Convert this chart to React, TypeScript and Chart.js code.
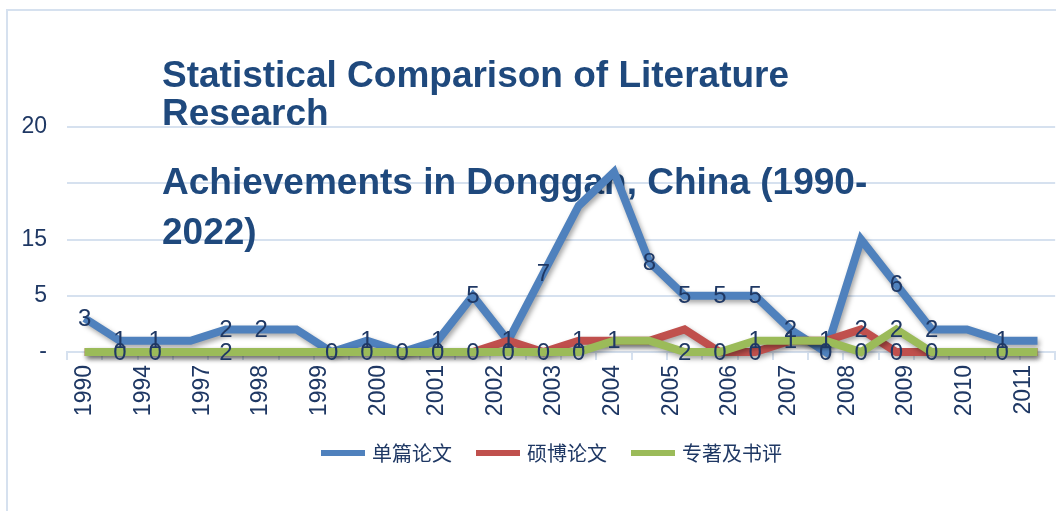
import React, { useEffect, useRef } from "react";
import { Chart, registerables } from "chart.js";

Chart.register(...registerables);

// ---------- data ----------
const categories = [
  "1", "2", "3", "4", "5", "6", "7", "8", "9", "10", "11", "12", "13", "14",
  "15", "16", "17", "18", "19", "20", "21", "22", "23", "24", "25", "26", "27", "28",
];
const singlePapers = [3, 1, 1, 1, 2, 2, 2, 0, 1, 0, 1, 5, 1, 7, 13, 16, 8, 5, 5, 5, 2, 0, 10, 6, 2, 2, 1, 1];
const thesisPapers = [0, 0, 0, 0, 0, 0, 0, 0, 0, 0, 0, 0, 1, 0, 1, 1, 1, 2, 0, 0, 1, 1, 2, 0, 0, 0, 0, 0];
const booksReviews = [0, 0, 0, 0, 0, 0, 0, 0, 0, 0, 0, 0, 0, 0, 0, 1, 1, 0, 0, 1, 1, 1, 0, 2, 0, 0, 0, 0];

// data labels as shown on the chart (null = not shown)
const singleLabels = ["3", "1", "1", null, "2", "2", null, "0", "1", "0", "1", "5", "1", "7", null, null, "8", "5", "5", "5", "2", "0", null, "6", "2", null, "1", null];
const thesisLabels = [null, null, null, null, null, null, null, null, null, null, null, "0", null, "0", "1", null, null, null, "0", "0", "1", null, "2", "0", "0", null, null, null];
const booksLabels = [null, "0", "0", null, "2", null, null, null, "0", null, "0", null, "0", null, "0", "1", null, "2", null, "1", null, "1", "0", "2", null, null, "0", null];

const seriesNames = ["单篇论文", "硕博论文", "专著及书评"];
const yearLabels = ["1990", "1994", "1997", "1998", "1999", "2000", "2001", "2002", "2003", "2004", "2005", "2006", "2007", "2008", "2009", "2010", "2011"];
const yTickValues = [0, 5, 10, 15, 20];
const yTickTexts = ["-", "5", "15", "", "20"];
const titleLines = ["Statistical Comparison of Literature", "Research", "Achievements in Donggan, China (1990-", "2022)"];

// ---------- style ----------
const COLORS = ["#4F81BD", "#C0504D", "#9BBB59"];
const GRID = "#D6E1EF";
const NAVY = "#1F3864";
const TITLE_COLOR = "#1F497D";
const FONT = '"Liberation Sans", Arial, sans-serif';
const TITLE_X = 162;
const TITLE_BASELINES = [87, 125, 194, 244];

const decorPlugin = {
  id: "decor",
  beforeDraw(chart: any) {
    const ctx = chart.ctx;
    ctx.save();
    ctx.strokeStyle = GRID;
    ctx.lineWidth = 2;
    ctx.beginPath();
    ctx.moveTo(7, chart.height);
    ctx.lineTo(7, 10);
    ctx.lineTo(chart.width, 10);
    ctx.stroke();
    ctx.restore();
  },
  beforeDatasetsDraw(chart: any) {
    const ctx = chart.ctx;
    ctx.save();
    ctx.font = `bold 37px ${FONT}`;
    ctx.fillStyle = TITLE_COLOR;
    ctx.textAlign = "left";
    ctx.textBaseline = "alphabetic";
    titleLines.forEach((t, i) => ctx.fillText(t, TITLE_X, TITLE_BASELINES[i]));
    ctx.restore();
  },
  beforeDatasetDraw(chart: any) {
    const ctx = chart.ctx;
    ctx.save();
    ctx.shadowColor = "rgba(0,0,0,0.35)";
    ctx.shadowBlur = 5;
    ctx.shadowOffsetX = 2;
    ctx.shadowOffsetY = 3;
  },
  afterDatasetDraw(chart: any) {
    chart.ctx.restore();
  },
  afterDatasetsDraw(chart: any) {
    const ctx = chart.ctx;
    const all = [singleLabels, thesisLabels, booksLabels];
    ctx.save();
    ctx.font = `24px ${FONT}`;
    ctx.fillStyle = NAVY;
    ctx.textAlign = "center";
    ctx.textBaseline = "middle";
    all.forEach((labels, di) => {
      const meta = chart.getDatasetMeta(di);
      labels.forEach((lab, j) => {
        if (lab === null) return;
        const el = meta.data[j];
        if (!el) return;
        ctx.fillText(lab, el.x, el.y + 1);
      });
    });
    ctx.restore();
  },
};

export default function App() {
  const ref = useRef<HTMLCanvasElement | null>(null);

  useEffect(() => {
    if (!ref.current) return;
    const seriesData = [singlePapers, thesisPapers, booksReviews];
    const chart = new Chart(ref.current, {
      type: "line",
      data: {
        labels: categories,
        datasets: seriesData.map((d, i) => ({
          label: seriesNames[i],
          data: d,
          borderColor: COLORS[i],
          backgroundColor: COLORS[i],
          borderWidth: 8,
          borderJoinStyle: "miter" as const,
          borderCapStyle: "butt" as const,
          pointRadius: 0,
          pointHoverRadius: 0,
          tension: 0,
          fill: false,
          clip: false as any,
          order: 2 - i,
        })),
      },
      options: {
        animation: false,
        responsive: true,
        maintainAspectRatio: false,
        events: [],
        layout: { padding: { left: 0, right: -6, top: 127, bottom: 92 } },
        plugins: {
          legend: { display: false },
          title: { display: false },
          tooltip: { enabled: false },
        },
        scales: {
          x: {
            type: "category",
            offset: true,
            grid: {
              display: true,
              drawOnChartArea: false,
              drawTicks: true,
              tickLength: 8,
              color: GRID,
              lineWidth: 2,
              offset: true,
            },
            border: { display: true, color: GRID, width: 2 },
            ticks: { display: false },
            afterFit: (s: any) => {
              s.height = 8;
            },
          },
          x2: {
            type: "linear",
            position: "bottom",
            min: -0.3048,
            max: 16.5418,
            grid: { display: false, drawTicks: false },
            border: { display: false },
            afterBuildTicks: (s: any) => {
              s.ticks = yearLabels.map((_, i) => ({ value: i }));
            },
            ticks: {
              autoSkip: false,
              minRotation: 90,
              maxRotation: 90,
              padding: 5,
              color: NAVY,
              font: { family: FONT, size: 23 },
              callback: (v: any) => yearLabels[v] ?? "",
            },
            afterFit: (s: any) => {
              s.height = 59;
            },
          },
          y: {
            min: 0,
            max: 20,
            grid: { color: GRID, lineWidth: 2, drawTicks: false },
            border: { display: false },
            ticks: {
              stepSize: 5,
              padding: 20,
              color: NAVY,
              font: { family: FONT, size: 23 },
              callback: (v: any) => {
                const k = yTickValues.indexOf(Number(v));
                return k >= 0 ? yTickTexts[k] : "";
              },
            },
            afterFit: (s: any) => {
              s.width = 67;
            },
          },
        },
      } as any,
      plugins: [decorPlugin],
    });
    return () => chart.destroy();
  }, []);

  return (
    <div style={{ position: "fixed", left: 0, top: 0, width: 1056, height: 511, background: "#fff", overflow: "hidden" }}>
      <canvas ref={ref} />
      <div
        style={{
          position: "absolute",
          left: 321,
          top: 441,
          display: "flex",
          alignItems: "center",
          whiteSpace: "nowrap",
          font: '20px "Noto Sans CJK SC", sans-serif',
          lineHeight: "24px",
          color: NAVY,
        }}
      >
        {seriesNames.map((name, i) => (
          <div key={name} style={{ display: "flex", alignItems: "center", marginRight: 24 }}>
            <span style={{ display: "inline-block", width: 44, height: 6, background: COLORS[i], marginRight: 7 }} />
            <span>{name}</span>
          </div>
        ))}
      </div>
    </div>
  );
}
